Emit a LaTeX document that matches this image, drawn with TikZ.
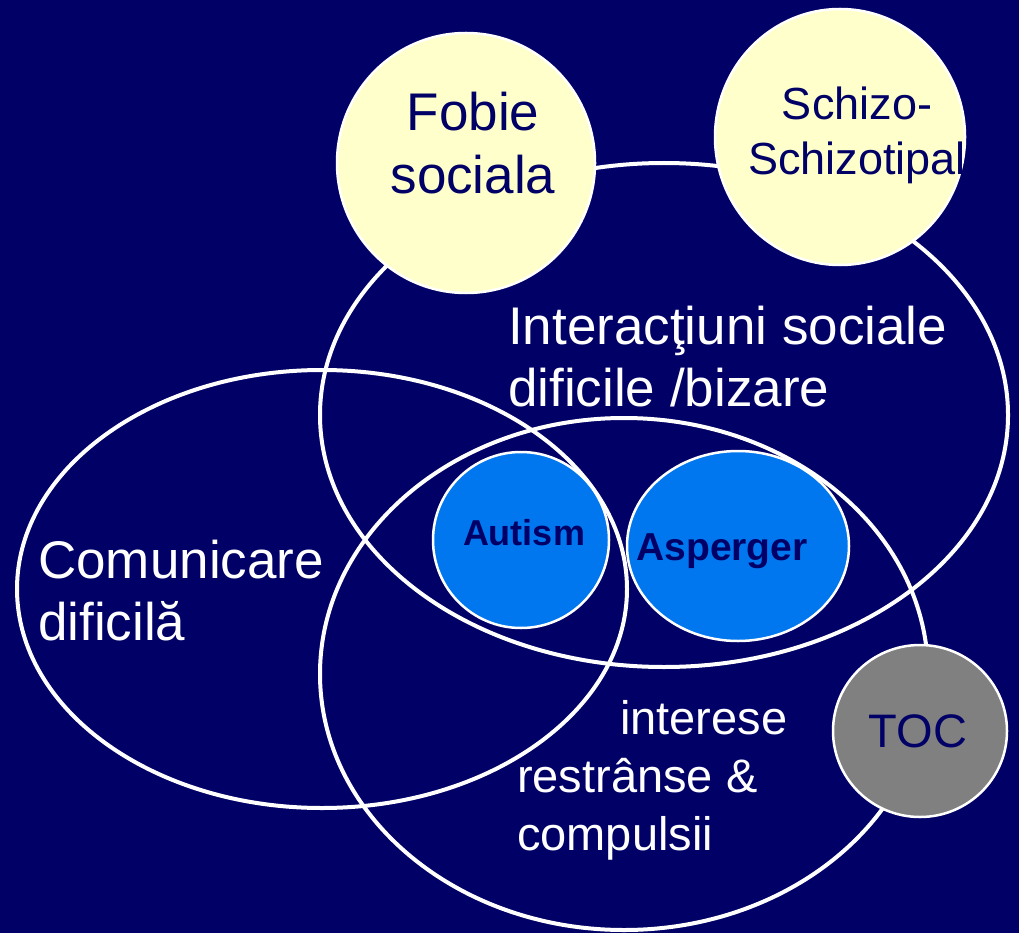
\documentclass[tikz,border=0pt]{standalone}
\usepackage{fontspec}
\setmainfont{Liberation Sans}
\usepackage{tikz}
\usetikzlibrary{shapes.geometric, positioning}
\definecolor{navy}{RGB}{0,0,102}
\definecolor{paleyellow}{RGB}{255,255,204}
\definecolor{skyblue}{RGB}{0,119,238}
\definecolor{midgray}{RGB}{128,128,128}
\tikzstyle{ring} = [ellipse, draw=white, line width=4pt, inner sep=0]
\tikzstyle{disky} = [ellipse, draw=white, line width=2.5pt, fill=paleyellow, inner sep=0]
\tikzstyle{diskb} = [ellipse, draw=white, line width=2.5pt, fill=skyblue, inner sep=0]
\tikzstyle{diskg} = [ellipse, draw=white, line width=2.5pt, fill=midgray, inner sep=0]
\tikzstyle{textw} = [text=white, align=left, inner sep=0, anchor=west]
\tikzstyle{textn} = [text=navy, align=center, inner sep=0]

\begin{document}
\begin{tikzpicture}[x=1pt, y=-1pt]

\useasboundingbox (0,0) rectangle (1019,933);
\fill [navy] (0,0) rectangle (1019,933);

\node [ring, minimum width=688, minimum height=504] (social) at (664,415) {};
\node [ring, minimum width=610, minimum height=438] (comm) at (322,589) {};
\node [ring, minimum width=608, minimum height=512] (inter) at (624,674) {};

\node [disky, minimum width=258, minimum height=260] (fobie) at (466,163) {};
\node [disky, minimum width=250, minimum height=256] (schizo) at (840,137) {};
\node [diskb, minimum width=176, minimum height=176] (autism) at (521,540) {};
\node [diskb, minimum width=222, minimum height=190] (asperger) at (738,546) {};
\node [diskg, minimum width=174, minimum height=172] (toc) at (920,731) {};

\node [textn, font=\fontsize{53}{63}\selectfont] (fobiet) at (473,143) {Fobie\\sociala};
\node [textn, font=\fontsize{45}{55}\selectfont] (schizot) at (857,135) {Schizo-\\Schizotipal};
\node [textn, font=\fontsize{36}{40}\selectfont\bfseries] (autismt) at (524,533) {Autism};
\node [textn, font=\fontsize{39}{44}\selectfont\bfseries] (aspergert) at (722,551) {Asperger};
\node [textn, font=\fontsize{47}{52}\selectfont] (toct) at (918,731) {TOC};

\node [textw, font=\fontsize{53}{62}\selectfont] (socialt) at (508,357) {Interacţiuni sociale\\dificile /bizare};
\node [textw, font=\fontsize{53}{62}\selectfont] (commt) at (38,591) {Comunicare\\dificilă};
\node [textw, font=\fontsize{47}{58}\selectfont] (intert) at (517,780) {\hspace*{103pt}interese\\restrânse \&\\compulsii};

\end{tikzpicture}
\end{document}
